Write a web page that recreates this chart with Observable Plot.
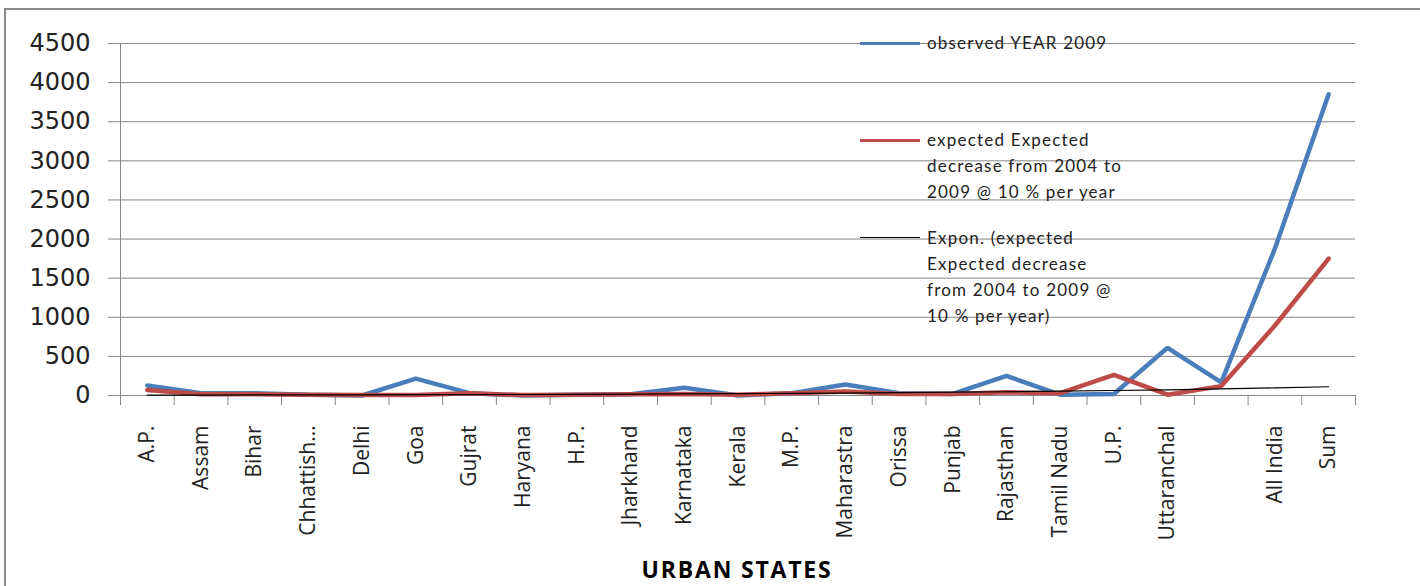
<!DOCTYPE html>
<html>
<head>
<meta charset="utf-8">
<script src="https://cdn.jsdelivr.net/npm/d3@7"></script>
<script src="https://cdn.jsdelivr.net/npm/@observablehq/plot@0.6"></script>
<style>
  html, body { margin: 0; padding: 0; background: #fff; width: 1420px; height: 586px; overflow: hidden; }
  #frame { position: absolute; left: 4px; top: 8px; width: 1430px; height: 600px; border-left: 2px solid #8a8a8a; border-top: 2px solid #8a8a8a; box-sizing: border-box; }
  #chart { position: absolute; left: 0; top: 0; }
  #legend { position: absolute; left: 860px; top: 30px; font-family: Lato, "Open Sans", sans-serif; font-size: 17px; letter-spacing: 1.2px; color: #222; }
  .item { position: absolute; left: 0; width: 320px; }
  .sw { position: absolute; left: 0; width: 60px; }
  .txt { position: absolute; left: 67px; line-height: 26px; white-space: nowrap; }
  #title { position: absolute; left: 0; width: 1474px; top: 553px; text-align: center; font-family: "Open Sans", sans-serif; font-weight: bold; font-size: 23px; letter-spacing: 1.8px; color: #000; }
</style>
</head>
<body>
<div id="frame"></div>
<div id="chart"></div>
<div id="title">URBAN STATES</div>
<div id="legend"></div>
<script>
const categories = ["A.P.", "Assam", "Bihar", "Chhattish…", "Delhi", "Goa", "Gujrat", "Haryana", "H.P.", "Jharkhand", "Karnataka", "Kerala", "M.P.", "Maharastra", "Orissa", "Punjab", "Rajasthan", "Tamil Nadu", "U.P.", "Uttaranchal", "", "All India", "Sum"];
const observed = [128, 30, 30, 10, 0, 215, 30, 0, 10, 15, 100, 0, 30, 140, 30, 20, 250, 10, 20, 610, 168, 1880, 3850];
const expected = [70, 15, 15, 10, 5, 5, 30, 5, 10, 15, 20, 10, 30, 50, 20, 20, 40, 30, 265, 10, 120, 895, 1750];
const trend = [5, 6, 7, 8, 9, 10, 12, 13, 15, 18, 21, 24, 27, 31, 36, 42, 48, 55, 64, 73, 84, 97, 112];
const yTicks = [0, 500, 1000, 1500, 2000, 2500, 3000, 3500, 4000, 4500];
const seriesNames = ["observed YEAR 2009", "expected Expected\ndecrease from 2004 to\n2009 @ 10 % per year", "Expon. (expected\nExpected decrease\nfrom 2004 to 2009  @\n10 % per year)"];
const seriesColors = ["#4A7EBB", "#BE4B48", "#000000"];

const rows = (vals) => vals.map((v, i) => ({i: i + 0.5, v}));
const labelRows = categories.map((c, i) => ({i: i + 0.5, c}));

const plot = Plot.plot({
  width: 1420,
  height: 586,
  marginLeft: 120,
  marginRight: 65,
  marginTop: 43,
  marginBottom: 191,
  style: {background: "transparent", overflow: "visible"},
  x: {domain: [0, categories.length], axis: null, label: null},
  y: {domain: [0, 4500], axis: null, label: null},
  marks: [
    Plot.gridY(yTicks, {stroke: "#868686", strokeOpacity: 1, strokeWidth: 1}),
    Plot.axisY(yTicks, {label: null, tickSize: 12, tickPadding: 18, stroke: "#868686", fill: "#222", fontSize: 24, fontFamily: "DejaVu Sans", tickFormat: d => String(d)}),
    Plot.axisX(d3.range(categories.length + 1), {label: null, tickSize: 10, stroke: "#868686", tickFormat: () => ""}),
    Plot.ruleX([0], {stroke: "#868686"}),
    Plot.line(rows(observed), {x: "i", y: "v", stroke: seriesColors[0], strokeWidth: 4.5, strokeLinejoin: "miter"}),
    Plot.line(rows(expected), {x: "i", y: "v", stroke: seriesColors[1], strokeWidth: 4.5, strokeLinejoin: "miter"}),
    Plot.line(rows(trend), {x: "i", y: "v", stroke: seriesColors[2], strokeWidth: 1.2}),
    Plot.text(labelRows, {x: "i", y: () => 0, text: "c", rotate: -90, textAnchor: "end", dy: 30, fontSize: 21, fontFamily: "Open Sans", fill: "#222"})
  ]
});
document.getElementById("chart").appendChild(plot);

const legendTops = [0, 97, 195];
const legend = document.getElementById("legend");
seriesNames.forEach((name, k) => {
  const item = document.createElement("div");
  item.className = "item";
  item.style.top = legendTops[k] + "px";
  const sw = document.createElement("div");
  sw.className = "sw";
  sw.style.top = "12px";
  sw.style.borderTop = (k === 2 ? 1.5 : 3) + "px solid " + seriesColors[k];
  const txt = document.createElement("div");
  txt.className = "txt";
  txt.style.top = "0px";
  txt.innerHTML = name.split("\n").join("<br>");
  item.appendChild(sw);
  item.appendChild(txt);
  legend.appendChild(item);
});
</script>
</body>
</html>
